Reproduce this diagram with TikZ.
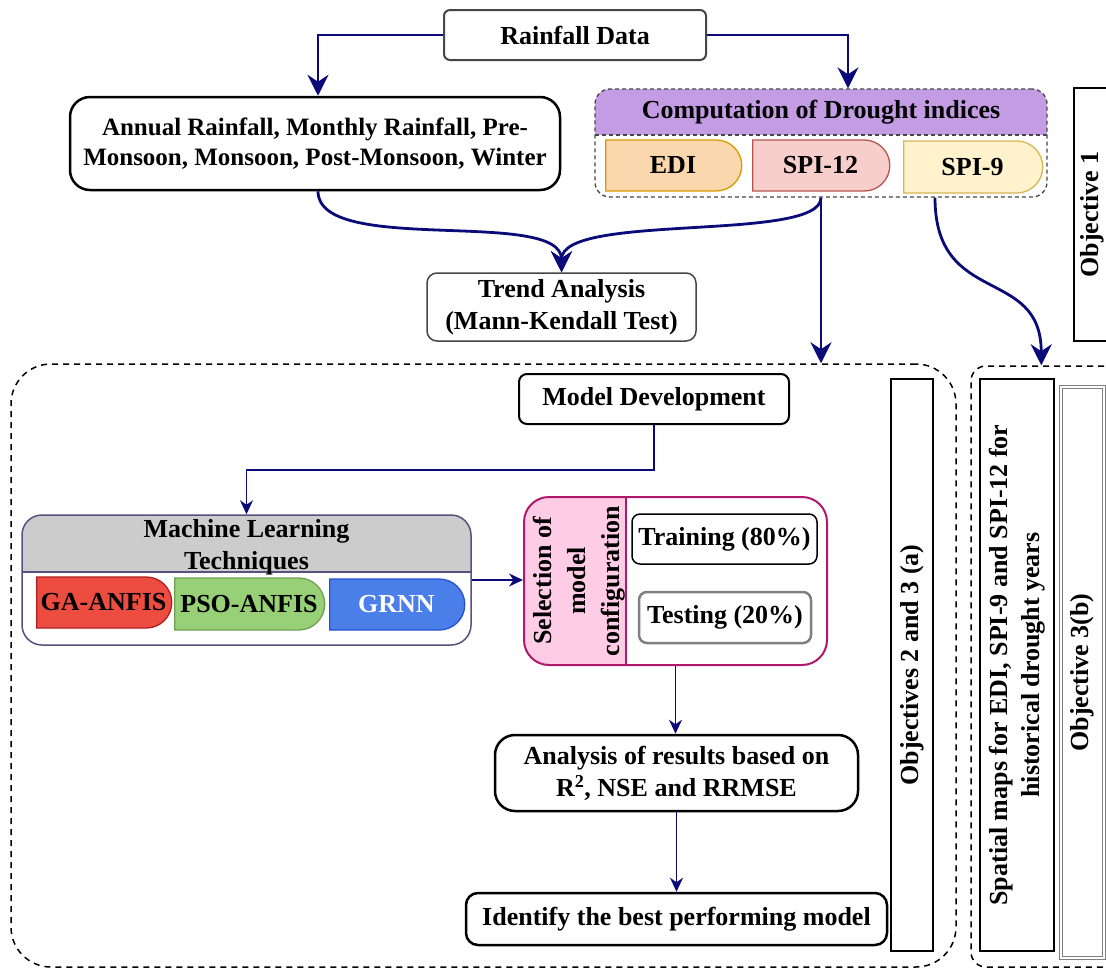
\documentclass[tikz,border=0pt]{standalone}
\usepackage{fontspec}
\setmainfont{Liberation Serif}
\usetikzlibrary{arrows.meta,shapes.misc,calc}
\definecolor{navy}{RGB}{10,10,120}
\definecolor{purpleh}{RGB}{196,156,228}
\definecolor{edif}{RGB}{250,215,172}
\definecolor{edid}{RGB}{215,155,0}
\definecolor{spiaf}{RGB}{248,206,204}
\definecolor{spiad}{RGB}{184,84,80}
\definecolor{spibf}{RGB}{255,242,204}
\definecolor{spibd}{RGB}{214,182,86}
\definecolor{mlgray}{RGB}{204,204,204}
\definecolor{mlborder}{RGB}{86,81,126}
\definecolor{gaf}{RGB}{236,77,64}
\definecolor{gad}{RGB}{178,30,30}
\definecolor{psof}{RGB}{151,208,119}
\definecolor{psod}{RGB}{110,160,80}
\definecolor{grnnf}{RGB}{74,127,234}
\definecolor{grnnd}{RGB}{40,80,210}
\definecolor{selb}{RGB}{176,24,110}
\definecolor{pinkf}{RGB}{255,204,230}
\definecolor{boxgray}{RGB}{70,70,70}
\begin{document}
\begin{tikzpicture}[x=1pt,y=-1pt,
  txt/.style={font=\fontsize{26}{32}\selectfont\bfseries, align=center, inner sep=0pt},
  bigarrow/.style={draw=navy, line width=2.8pt, -{Stealth[length=21pt,width=21pt,inset=7pt]}},
  thinarrow/.style={draw=navy, line width=1.5pt, -{Stealth[length=14pt,width=13pt,inset=4.5pt]}},
  dshape/.style={txt, rounded rectangle, rounded rectangle left arc=none, line width=1.3pt},
  objbox/.style={txt, draw, rotate=90, line width=1.5pt},
  bigdash/.style={draw=black, line width=1.5pt, dash pattern=on 6pt off 5pt},
  smalldash/.style={draw=boxgray, line width=1.3pt, dash pattern=on 4pt off 3pt},
]
\fill[white] (0,0) rectangle (1106,969);
\useasboundingbox (0,0) rectangle (1106,969);

% ---------- top part ----------
\node[txt, draw=boxgray, line width=2pt, rounded corners=6pt, minimum width=262pt, minimum height=50pt] (rain) at (575,35) {Rainfall Data};

\node[txt, font=\fontsize{25}{30}\selectfont\bfseries, draw=black, line width=2.5pt, rounded corners=20pt, minimum width=490pt, minimum height=93pt] (annual) at (315,143.5) {Annual Rainfall, Monthly Rainfall, Pre-\\Monsoon, Monsoon, Post-Monsoon, Winter};

\begin{scope}
  \clip[rounded corners=15pt] (595,89) rectangle (1047,197);
  \fill[purpleh] (595,89) rectangle (1047,135);
\end{scope}
\draw[smalldash] (595,135) -- (1047,135);
\node[smalldash, rounded corners=15pt, minimum width=452pt, minimum height=108pt, inner sep=0pt] (comp) at (821,143) {};
\node[txt] (comptitle) at (821,112) {Computation of Drought indices};

\node[dshape, draw=edid, fill=edif, minimum width=136pt, minimum height=51pt] (edi) at (673,165.5) {EDI};
\node[dshape, draw=spiad, fill=spiaf, minimum width=137pt, minimum height=51pt] (spia) at (820.5,165.5) {SPI-12};
\node[dshape, draw=spibd, fill=spibf, minimum width=139pt, minimum height=52pt] (spib) at (972.5,167) {SPI-9};

\node[objbox, minimum width=253pt, minimum height=36pt] (obj1) at (1092,214.5) {Objective 1};

\node[txt, draw=boxgray, line width=1.5pt, rounded corners=10pt, minimum width=269pt, minimum height=68pt] (trend) at (561.5,307) {Trend Analysis\\(Mann-Kendall Test)};

% ---------- groups ----------
\node[bigdash, rounded corners=40pt, minimum width=945pt, minimum height=603pt, inner sep=0pt] (grpL) at (483.5,665.5) {};
\node[bigdash, rounded corners=15pt, minimum width=159pt, minimum height=601pt, inner sep=0pt] (grpR) at (1050.5,666.5) {};

\node[txt, draw=black, line width=2pt, rounded corners=8pt, minimum width=270pt, minimum height=50pt] (md) at (654,399) {Model Development};

% Machine learning group
\begin{scope}
  \clip[rounded corners=20pt] (22,515) rectangle (471,645);
  \fill[mlgray] (22,515) rectangle (471,572);
\end{scope}
\draw[mlborder, line width=1.3pt] (22,572) -- (471,572);
\node[draw=mlborder, line width=1.5pt, rounded corners=20pt, minimum width=449pt, minimum height=130pt, inner sep=0pt] (ml) at (246.5,580) {};
\node[txt] (mltitle) at (246.5,547) {Machine Learning\\Techniques};

\node[dshape, draw=gad, fill=gaf, minimum width=135pt, minimum height=51pt] (ga) at (103.5,602.5) {GA-ANFIS};
\node[dshape, draw=psod, fill=psof, minimum width=150pt, minimum height=52pt] (pso) at (249,604) {PSO-ANFIS};
\node[dshape, draw=grnnd, fill=grnnf, text=white, minimum width=135pt, minimum height=51pt] (grnn) at (396.5,604.5) {GRNN};

% Selection group
\begin{scope}
  \clip[rounded corners=25pt] (524,497) rectangle (827,665);
  \fill[pinkf] (524,497) rectangle (626,665);
\end{scope}
\draw[selb, line width=1.5pt] (626,497) -- (626,665);
\node[draw=selb, line width=2pt, rounded corners=25pt, minimum width=303pt, minimum height=168pt, inner sep=0pt] (sel) at (675.5,581) {};
\node[txt, rotate=90, font=\fontsize{26}{34}\selectfont\bfseries] (seltitle) at (579,581) {Selection of\\model\\configuration};

\node[txt, draw=black, line width=1.5pt, rounded corners=8pt, minimum width=185pt, minimum height=50pt] (train) at (724.5,539) {Training (80\%)};
\node[txt, draw=gray, line width=2.5pt, rounded corners=8pt, minimum width=172pt, minimum height=51pt] (test) at (725,617.5) {Testing (20\%)};

\node[txt, draw=black, line width=2.5pt, rounded corners=20pt, minimum width=363pt, minimum height=76pt] (ana) at (676.5,773) {Analysis of results based on\\R\textsuperscript{2}, NSE and RRMSE};
\node[txt, draw=black, line width=2.5pt, rounded corners=12pt, minimum width=421pt, minimum height=52pt] (ident) at (676.5,919) {Identify the best performing model};

\node[objbox, minimum width=572pt, minimum height=42pt] (obj23) at (912,665) {Objectives 2 and 3 (a)};
\node[objbox, minimum width=572pt, minimum height=74pt] (spat) at (1017,665) {Spatial maps for EDI, SPI-9 and SPI-12 for\\historical drought years};
\node[objbox, draw=gray, double=white, double distance=1.6pt, line width=0.9pt, minimum width=571pt, minimum height=43pt] (obj3b) at (1082.5,672.5) {Objective 3(b)};

% ---------- connectors ----------
\coordinate (s9start) at ([xshift=114pt]comp.south);
\coordinate (s9end) at ([xshift=71pt]grpR.north west);
\draw[bigarrow] (rain.west) -| ([xshift=3pt]annual.north);
\draw[bigarrow] (rain.east) -| ([xshift=27pt]comp.north);
\draw[bigarrow] ([xshift=3pt]annual.south) .. controls +(0,65) and +(0,-65) .. (trend.north);
\draw[bigarrow] (comp.south) .. controls +(0,45) and +(0,-60) .. (trend.north);
\draw[bigarrow] (comp.south) -- (comp.south |- grpL.north);
\draw[bigarrow] (s9start) .. controls +(0,110) and +(0,-100) .. (s9end);

\draw[thinarrow] (md.south) -- ++(0,45) -| (ml.north);
\draw[thinarrow] (ml.east) -- (ml.east -| sel.west);
\draw[thinarrow] (sel.south) -- (sel.south |- ana.north);
\draw[thinarrow] (ana.south) -- (ident.north);
\end{tikzpicture}
\end{document}
